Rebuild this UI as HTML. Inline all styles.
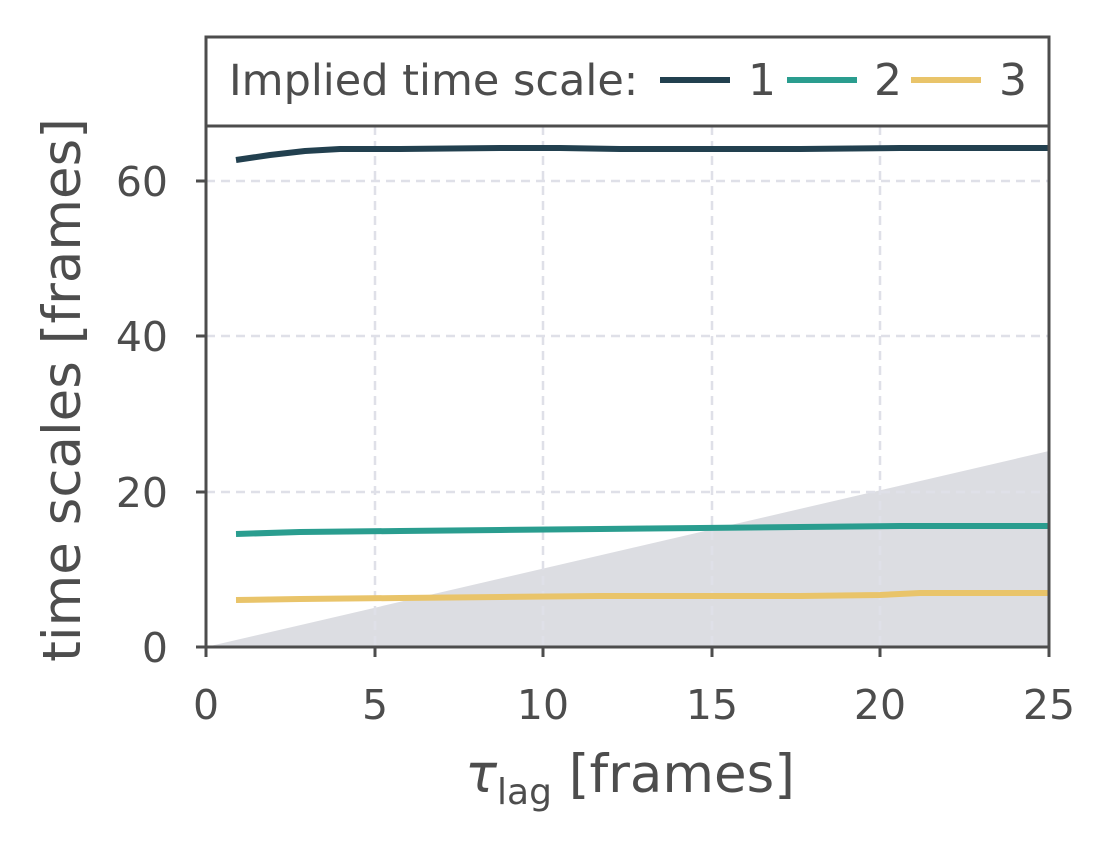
<!DOCTYPE html>
<html><head><meta charset="utf-8"><style>
html,body{margin:0;padding:0;background:#fff;}
svg{display:block;font-family:"DejaVu Sans","Liberation Sans",sans-serif;}
</style></head><body>
<svg width="1117" height="850" viewBox="0 0 1117 850" xmlns="http://www.w3.org/2000/svg">
<rect width="1117" height="850" fill="#fff"/>
<polygon points="206,647 1049,451 1049,647" fill="#dcdde2"/>
<g stroke="#dfe0e8" stroke-width="2.5" stroke-dasharray="9,6">
<line x1="375" y1="126" x2="375" y2="647"/>
<line x1="543" y1="126" x2="543" y2="647"/>
<line x1="712" y1="126" x2="712" y2="647"/>
<line x1="880" y1="126" x2="880" y2="647"/>
<line x1="206" y1="492" x2="1049" y2="492"/>
<line x1="206" y1="336" x2="1049" y2="336"/>
<line x1="206" y1="181" x2="1049" y2="181"/>
</g>
<g fill="none" stroke-width="6" stroke-linejoin="round">
<polyline stroke="#22404f" points="236,160 270,155 305,151 340,149 400,149 500,148 560,148 620,149 700,149 800,149 900,148 1049,148"/>
<polyline stroke="#2a9d8f" points="236,534 300,532 400,531 500,530 600,529 700,528 800,527 900,526 1049,526"/>
<polyline stroke="#e9c46a" points="236,600 300,599 400,598 500,597 600,596 700,596 800,596 880,595 920,593 1049,593"/>
</g>
<rect x="206" y="126" width="843" height="521" fill="none" stroke="#4d4d4d" stroke-width="3"/>
<rect x="206" y="37" width="843" height="89" fill="#fff" stroke="#4d4d4d" stroke-width="3"/>
<g font-size="44" fill="#4d4d4d">
<text x="229" y="95" font-size="43">Implied time scale:</text>
<line x1="660" y1="80" x2="730" y2="80" stroke="#22404f" stroke-width="6"/>
<text x="748" y="95">1</text>
<line x1="787" y1="80" x2="857" y2="80" stroke="#2a9d8f" stroke-width="6"/>
<text x="874" y="95">2</text>
<line x1="911" y1="80" x2="981" y2="80" stroke="#e9c46a" stroke-width="6"/>
<text x="999" y="95">3</text>
</g>
<g stroke="#4d4d4d" stroke-width="3">
<line x1="206" y1="647" x2="206" y2="657"/>
<line x1="375" y1="647" x2="375" y2="657"/>
<line x1="543" y1="647" x2="543" y2="657"/>
<line x1="712" y1="647" x2="712" y2="657"/>
<line x1="880" y1="647" x2="880" y2="657"/>
<line x1="1049" y1="647" x2="1049" y2="657"/>
<line x1="196" y1="647" x2="206" y2="647"/>
<line x1="196" y1="492" x2="206" y2="492"/>
<line x1="196" y1="336" x2="206" y2="336"/>
<line x1="196" y1="181" x2="206" y2="181"/>
</g>
<g font-size="41" fill="#4d4d4d" text-anchor="middle">
<text x="206" y="719">0</text>
<text x="375" y="719">5</text>
<text x="543" y="719">10</text>
<text x="712" y="719">15</text>
<text x="880" y="719">20</text>
<text x="1049" y="719">25</text>
</g>
<g font-size="41" fill="#4d4d4d" text-anchor="end">
<text x="168" y="662">0</text>
<text x="168" y="507">20</text>
<text x="168" y="351">40</text>
<text x="168" y="196">60</text>
</g>
<text x="630" y="792" font-size="53" fill="#4d4d4d" text-anchor="middle"><tspan font-style="italic">τ</tspan><tspan font-size="36" dy="12">lag</tspan><tspan dy="-12"> [frames]</tspan></text>
<text transform="translate(80,390) rotate(-90)" font-size="53" fill="#4d4d4d" text-anchor="middle">time scales [frames]</text>
</svg>
</body></html>
